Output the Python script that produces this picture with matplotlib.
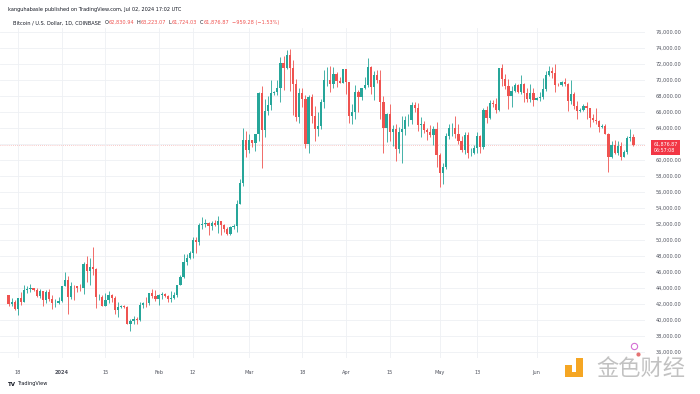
import numpy as np
import pandas as pd
import matplotlib
matplotlib.use("Agg")
import matplotlib.pyplot as plt
from matplotlib.patches import Rectangle
from matplotlib.lines import Line2D

UP = "#26a69a"
DOWN = "#ef5350"

# daily candles, Dec 15 2023 .. Jul 02 2024 (one row per month)
dates = pd.date_range("2023-12-15", "2024-07-02", freq="D")

opens = [
    43030, 41940, 42260, 41370, 42660, 42270, 43660, 43870, 43990, 43730, 43010, 43600, 42520, 43450, 42590, 42080, 42140,
    42280, 44180, 45000, 42850, 44170, 44160, 43970, 43930, 46950, 46120, 46630, 46340, 42780, 42840, 41740, 42510, 43140, 42740, 41260, 41620, 41660, 41570, 39520, 39860, 40080, 39930, 41820, 42120, 42030, 43300, 42950,
    42580, 43080, 43190, 43010, 42580, 42700, 43090, 44340, 45290, 47150, 47770, 48290, 49960, 49710, 51830, 51930, 52140, 51660, 52130, 51780, 52280, 51850, 51300, 50750, 51570, 51730, 54480, 57060, 62500,
    61190, 62440, 62030, 63170, 68290, 63770, 66100, 66870, 68310, 68450, 68900, 72100, 71450, 73080, 71400, 69460, 65300, 68390, 67610, 61940, 67850, 65500, 63800, 64250, 67210, 69900, 70000, 69450, 70750, 69850, 69590,
    71330, 69690, 65450, 65980, 68500, 67830, 68900, 69360, 71620, 69140, 70600, 70000, 67150, 63900, 65700, 63400, 63800, 61280, 63470, 63800, 64950, 64950, 66840, 66400, 64280, 64500, 63770, 63460, 63120, 63850,
    60620, 58300, 59100, 62900, 63900, 64000, 63150, 62300, 61190, 63050, 60790, 60830, 61460, 62900, 61550, 66250, 65250, 67050, 66940, 66270, 71450, 70140, 69150, 67950, 68550, 69280, 68500, 69400, 68350, 67600, 68350,
    67500, 67750, 67800, 68800, 70550, 71100, 70800, 69350, 69300, 69650, 69500, 67350, 68250, 66750, 66050, 66200, 66650, 66500, 65150, 64950, 64850, 64100, 64250, 63200, 60300, 61800, 60850, 61650, 60300, 60900,
    62700, 62830.94,
]
highs = [
    43090, 42720, 42420, 42750, 43480, 44280, 44240, 44400, 44020, 43940, 43800, 43620, 43680, 43790, 43120, 42600, 42880,
    44200, 45900, 45500, 44770, 44300, 44230, 44500, 47250, 47900, 47700, 49050, 46500, 43250, 43080, 43330, 43570, 43200, 42930, 42180, 41870, 41870, 41670, 40130, 40520, 40280, 42230, 42170, 42840, 43320, 43880, 43740,
    43270, 43480, 43380, 43120, 43530, 43400, 44370, 45600, 48180, 48170, 48590, 50350, 50370, 52050, 52820, 52580, 52200, 52380, 52480, 52960, 52380, 52020, 51540, 51680, 51950, 54940, 57570, 63930, 63630,
    63180, 62450, 63230, 68500, 69200, 67600, 67980, 69990, 68620, 69920, 72800, 72960, 73650, 73780, 72400, 70060, 68900, 68920, 68100, 68100, 68200, 66650, 65990, 67620, 71150, 71550, 71700, 71550, 70900, 70300, 71350,
    71350, 69700, 66900, 69290, 68720, 69000, 70300, 72700, 71750, 71100, 71250, 71230, 67900, 65830, 66900, 64350, 64500, 64100, 65450, 65400, 65700, 67250, 67200, 67070, 65280, 64800, 63900, 64350, 64230, 64730,
    60800, 59600, 63300, 64500, 64600, 65500, 64400, 63000, 63400, 63450, 61500, 61800, 63450, 63100, 66450, 66700, 67450, 67400, 67700, 71500, 71950, 70650, 70100, 69250, 69550, 69500, 70600, 69550, 68900, 69500, 69000,
    67850, 68450, 70250, 71050, 71750, 71600, 71950, 69550, 69850, 70150, 69550, 69950, 68400, 67300, 66400, 66950, 67200, 66500, 65700, 66500, 65000, 64500, 64500, 63350, 62300, 62450, 62300, 62200, 61150, 62900,
    63800, 63223.07,
]
lows = [
    41680, 41680, 41250, 40530, 41850, 42200, 43300, 43410, 43600, 42790, 42760, 41650, 42100, 42320, 41310, 41540, 41980,
    42180, 44150, 40750, 42630, 42500, 43420, 43580, 43200, 44700, 44350, 45600, 41500, 42440, 41720, 41720, 42050, 42200, 40680, 40280, 41450, 41500, 39450, 38550, 39470, 39520, 39820, 41400, 41620, 41800, 42690, 42290,
    41880, 42570, 42880, 42220, 42260, 42570, 42790, 44330, 45240, 46800, 47540, 47700, 48300, 49290, 51330, 51620, 50620, 51190, 51720, 50800, 50630, 50960, 50550, 50590, 51300, 50900, 54440, 56710, 60370,
    60820, 61600, 61140, 62360, 59000, 62820, 65560, 66160, 68060, 68100, 67230, 68750, 71340, 68630, 65600, 64780, 64540, 66630, 61500, 60780, 64600, 62300, 63000, 63800, 66400, 69200, 68400, 68900, 69100, 69550, 69580,
    68150, 64550, 64500, 65100, 66000, 67450, 68800, 69100, 68200, 67500, 69550, 65100, 60800, 62200, 62300, 61700, 59800, 60800, 59600, 63100, 64250, 64500, 65900, 63600, 62800, 63300, 62400, 62800, 61800, 59100,
    56550, 56950, 58800, 62600, 62900, 62700, 62000, 60900, 60700, 60200, 60500, 60650, 60800, 60800, 61350, 64600, 65100, 66600, 65850, 66050, 69200, 68850, 66350, 66600, 68500, 68300, 68250, 67250, 67150, 67150, 66650,
    67400, 67300, 67600, 68550, 70400, 70150, 68500, 69200, 69150, 69250, 66100, 66900, 66300, 65100, 65900, 66100, 65100, 64100, 64700, 64500, 63400, 63950, 63150, 58400, 60250, 60700, 60600, 60000, 60300, 60650,
    62300, 61724.03,
]
closes = [
    41940, 42260, 41370, 42660, 42270, 43660, 43870, 43990, 43730, 43010, 43600, 42520, 43450, 42590, 42080, 42140, 42280,
    44180, 45000, 42850, 44170, 44160, 43970, 43930, 46950, 46120, 46630, 46340, 42780, 42840, 41740, 42510, 43140, 42740, 41260, 41620, 41660, 41570, 39520, 39860, 40080, 39930, 41820, 42120, 42030, 43300, 42950, 42580,
    43080, 43190, 43010, 42580, 42700, 43090, 44340, 45290, 47150, 47770, 48290, 49960, 49710, 51830, 51930, 52140, 51660, 52130, 51780, 52280, 51850, 51300, 50750, 51570, 51730, 54480, 57060, 62500, 61190,
    62440, 62030, 63170, 68290, 63770, 66100, 66870, 68310, 68450, 68900, 72100, 71450, 73080, 71400, 69460, 65300, 68390, 67610, 61940, 67850, 65500, 63800, 64250, 67210, 69900, 70000, 69450, 70750, 69850, 69590, 71330,
    69690, 65450, 65980, 68500, 67830, 68900, 69360, 71620, 69140, 70600, 70000, 67150, 63900, 65700, 63400, 63800, 61280, 63470, 63800, 64950, 64950, 66840, 66400, 64280, 64500, 63770, 63460, 63120, 63850, 60620,
    58300, 59100, 62900, 63900, 64000, 63150, 62300, 61190, 63050, 60790, 60830, 61460, 62900, 61550, 66250, 65250, 67050, 66940, 66270, 71450, 70140, 69150, 67950, 68550, 69280, 68500, 69400, 68350, 67600, 68350, 67500,
    67750, 67800, 68800, 70550, 71100, 70800, 69350, 69300, 69650, 69500, 67350, 68250, 66750, 66050, 66200, 66650, 66500, 65150, 64950, 64850, 64100, 64250, 63200, 60300, 61800, 60850, 61650, 60300, 60900, 62700,
    62836, 61876.87,
]

price_levels = list(range(36000, 78000, 2000))
tick_dates = ["2023-12-18", "2024-01-01", "2024-01-15", "2024-02-01", "2024-02-12", "2024-03-01",
              "2024-03-18", "2024-04-01", "2024-04-15", "2024-05-01", "2024-05-13", "2024-06-01"]
tick_labels = ["18", "2024", "15", "Feb", "12", "Mar", "18", "Apr", "15", "May", "13", "Jun"]

W, H = 700, 394


def fx(x):
    return x / W


def fy(y):
    return 1 - y / H


o = np.array(opens, float)
h = np.array(highs, float)
l = np.array(lows, float)
c = np.array(closes, float)
t0 = pd.Timestamp("2024-01-01")
days = np.array((dates - t0).days, float)

fig = plt.figure(figsize=(7, 3.94), dpi=100)
fig.patch.set_facecolor("white")
ax = fig.add_axes([0, fy(358), fx(645), (358 - 28) / H])

cols = np.where(c >= o, UP, DOWN)
ax.vlines(days, l, h, colors=cols, lw=0.6, zorder=2)
ax.bar(days, np.maximum(np.abs(c - o), 40), bottom=np.minimum(o, c), width=0.72,
       color=cols, lw=0, zorder=3)

ax.set_xlim(-19.74, 186.7)
ax.set_ylim(35212, 76462)

for s in ax.spines.values():
    s.set_visible(False)

ax.yaxis.tick_right()
ax.set_yticks(price_levels)
ax.set_yticklabels(["" if v == 62000 else f"{v:,.2f}" for v in price_levels])
ax.tick_params(axis="y", length=0, pad=7.8, labelsize=3.6, labelcolor="#50535e")

tick_pos = [(pd.Timestamp(d) - t0).days for d in tick_dates]
ax.set_xticks(tick_pos)
ax.set_xticklabels(tick_labels)
ax.tick_params(axis="x", length=0, pad=8.6, labelsize=3.6, labelcolor="#50535e")
ax.get_xticklabels()[1].set_fontweight("bold")

ax.grid(True, color="#eef0f4", lw=0.6, zorder=0)

last = c[-1]
ax.axhline(last, color=DOWN, ls=(0, (1, 2)), lw=0.5, alpha=0.6, zorder=1)
ax.annotate(f"{last:,.2f}\n06:57:08", xy=(1, last), xycoords=("axes fraction", "data"),
            xytext=(6.0, 2.2), textcoords="offset points", ha="left", va="top",
            fontsize=3.4, color="white", linespacing=1.4, annotation_clip=False,
            bbox=dict(boxstyle="square,pad=0.45", fc="#f23645", ec="none"))

# header
fig.text(fx(8), fy(10), "kanguhabasle published on TradingView.com, Jul 02, 2024 17:02 UTC",
         fontsize=3.6, color="#131722", va="center")
renderer = fig.canvas.get_renderer()
header_parts = [("Bitcoin / U.S. Dollar, 1D, COINBASE", "#131722", 3.5),
                ("O", "#131722", 0.4), ("62,830.94", DOWN, 2.5),
                ("H", "#131722", 0.4), ("63,223.07", DOWN, 2.5),
                ("L", "#131722", 0.4), ("61,724.03", DOWN, 2.5),
                ("C", "#131722", 0.4), ("61,876.87", DOWN, 2.5),
                ("\u2212959.28 (\u22121.53%)", DOWN, 0)]
xpos = 13
for txt, col, gap in header_parts:
    t = fig.text(fx(xpos), fy(22.7), txt, fontsize=3.6, color=col, va="center")
    xpos = t.get_window_extent(renderer).x1 + gap

# TradingView logo
fig.text(fx(8), fy(384), "TV", fontsize=4, fontweight="bold", color="#131722", va="center")
fig.text(fx(17), fy(384), "TradingView", fontsize=3.6, color="#131722", va="center")

# event marker
fig.add_artist(Line2D([fx(634)], [fy(346)], marker="o", ms=4.5, mfc="none", mec="#d46fd4", mew=0.8,
                      transform=fig.transFigure))
fig.add_artist(Line2D([fx(638)], [fy(354)], marker="o", ms=3, mfc="#e57373", mec="none",
                      transform=fig.transFigure))

# watermark
orange = "#f5a623"
for x0, y0, x1, y1 in [(565, 365, 572, 372), (576, 358, 583, 377), (565, 372, 583, 377)]:
    fig.add_artist(Rectangle((fx(x0), fy(y1)), (x1 - x0) / W, (y1 - y0) / H, fc=orange, ec="none",
                             transform=fig.transFigure))
fig.text(fx(596), fy(368), "金色财经", fontsize=16, color="#c2c2c2", va="center",
         family=["Noto Sans CJK SC", "DejaVu Sans"])

fig.savefig("out.png", dpi=100)
